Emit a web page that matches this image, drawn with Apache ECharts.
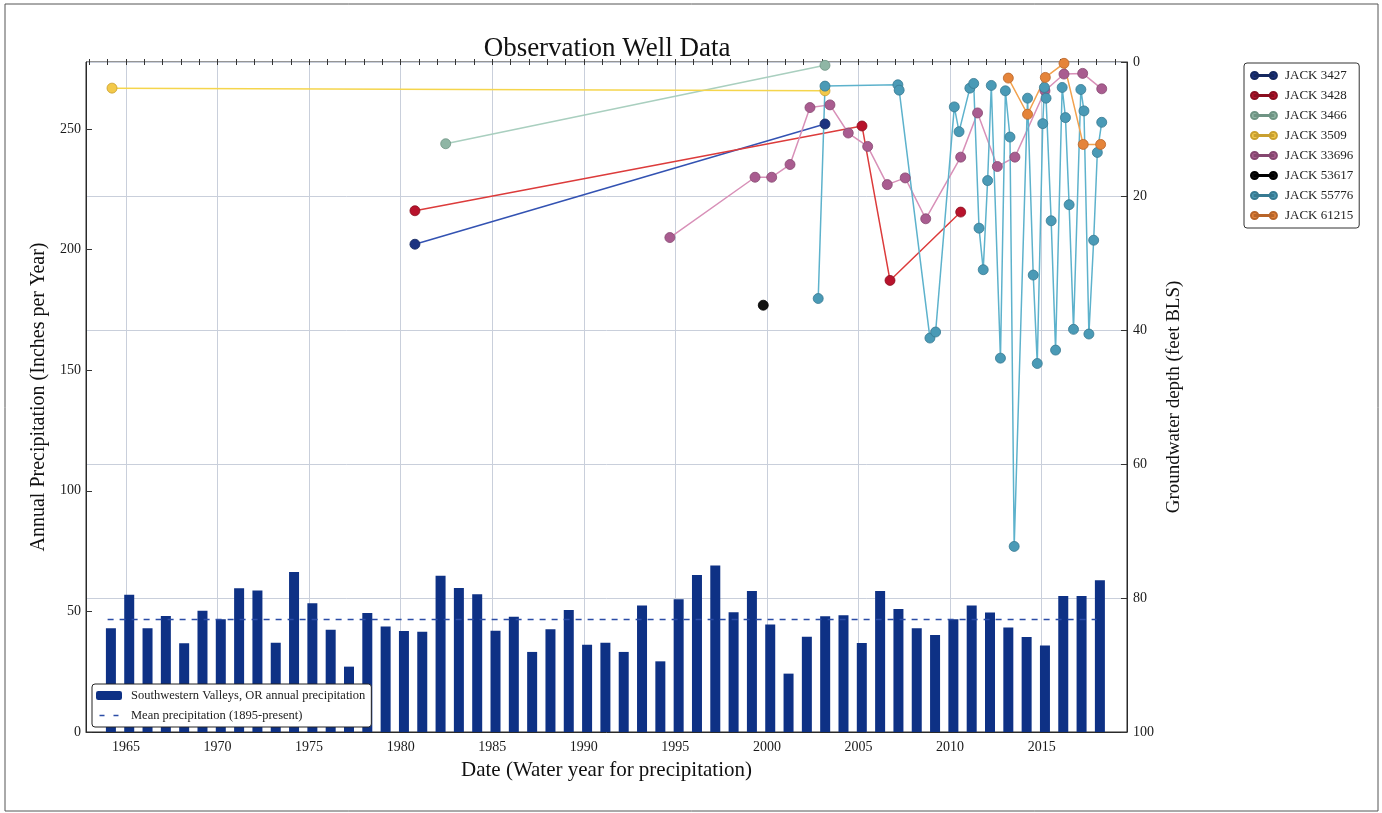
<!DOCTYPE html>
<html><head><meta charset="utf-8">
<script src="https://cdn.jsdelivr.net/npm/echarts@6/dist/echarts.min.js"></script>
<style>html,body{margin:0;padding:0;background:#fff}#c{width:1382px;height:813px}</style>
</head><body><div id="c"></div><script>
// ---------- DATA ----------
const precipDates = [1964.18,1965.18,1966.18,1967.18,1968.18,1969.18,1970.18,1971.18,1972.18,1973.18,
  1974.18,1975.18,1976.18,1977.18,1978.18,1979.18,1980.18,1981.18,1982.18,1983.18,
  1984.18,1985.18,1986.18,1987.18,1988.18,1989.18,1990.18,1991.18,1992.18,1993.18,
  1994.18,1995.18,1996.18,1997.18,1998.18,1999.18,2000.18,2001.18,2002.18,2003.18,
  2004.18,2005.18,2006.18,2007.18,2008.18,2009.18,2010.18,2011.18,2012.18,2013.18,
  2014.18,2015.18,2016.18,2017.18,2018.18];
const precipValues = [43.0,56.9,43.0,48.1,36.8,50.3,46.8,59.6,58.7,37.0,
  66.3,53.4,42.4,27.1,49.3,43.7,41.9,41.6,64.8,59.7,
  57.1,42.0,47.8,33.2,42.6,50.6,36.2,37.0,33.2,52.4,
  29.3,55.0,65.1,69.0,49.6,58.5,44.6,24.2,39.5,48.0,
  48.4,36.9,58.5,51.0,43.0,40.2,46.7,52.5,49.5,43.3,
  39.4,35.9,56.4,56.4,62.9];
const meanPrecip = 46.6;
const meanSpan = [1964, 2018];

const xTickYears = [1965,1970,1975,1980,1985,1990,1995,2000,2005,2010,2015];
const xMinorYears = [1963,1964,1965,1966,1967,1968,1969,1970,1971,1972,1973,1974,1975,1976,1977,1978,1979,
  1980,1981,1982,1983,1984,1985,1986,1987,1988,1989,1990,1991,1992,1993,1994,1995,1996,1997,1998,1999,
  2000,2001,2002,2003,2004,2005,2006,2007,2008,2009,2010,2011,2012,2013,2014,2015,2016,2017,2018,2019];
const leftTicks = [0,50,100,150,200,250];
const rightTicks = [0,20,40,60,80,100];

const jack3427 = [[1980.78,27.2],[2003.17,9.25]];
const jack3428 = [[1980.78,22.2],[2005.19,9.55],[2006.72,32.6],[2010.58,22.4]];
const jack3466 = [[1982.46,12.2],[2003.17,0.5]];
const jack3509 = [[1964.24,3.9],[2003.17,4.3]];
const jack33696 = [[1994.70,26.2],[1999.35,17.2],[2000.26,17.2],[2001.26,15.3],[2002.35,6.8],[2003.44,6.4],
  [2004.44,10.6],[2005.50,12.6],[2006.57,18.3],[2007.55,17.3],[2008.67,23.4],[2010.58,14.2],[2011.50,7.6],
  [2012.58,15.6],[2013.54,14.2],[2015.18,4.3],[2016.22,1.8],[2017.24,1.7],[2018.28,4.0]];
const jack53617 = [[1999.80,36.3]];
const jack55776 = [[2002.80,35.3],[2003.17,3.6],[2007.15,3.4],[2007.22,4.2],[2008.90,41.2],[2009.21,40.3],
  [2010.23,6.7],[2010.49,10.4],[2011.08,3.9],[2011.29,3.2],[2011.58,24.8],[2011.81,31.0],[2012.05,17.7],
  [2012.25,3.5],[2012.75,44.2],[2013.02,4.3],[2013.27,11.2],[2013.50,72.3],[2014.23,5.4],[2014.54,31.8],
  [2014.76,45.0],[2015.06,9.2],[2015.15,3.8],[2015.24,5.4],[2015.52,23.7],[2015.76,43.0],[2016.12,3.8],
  [2016.30,8.3],[2016.50,21.3],[2016.74,39.9],[2017.14,4.1],[2017.31,7.3],[2017.58,40.6],[2017.84,26.6],
  [2018.04,13.5],[2018.28,9.0]];
const jack61215 = [[2013.18,2.4],[2014.23,7.8],[2015.20,2.3],[2016.22,0.2],[2017.27,12.3],[2018.22,12.3]];

const wellNames = ['JACK 3427','JACK 3428','JACK 3466','JACK 3509','JACK 33696','JACK 53617','JACK 55776','JACK 61215'];
const wellData = [jack3427, jack3428, jack3466, jack3509, jack33696, jack53617, jack55776, jack61215];

// ---------- STYLE ----------
const wellStyle = [
  {marker:'#1c3380', edge:'#15285f', line:'#3352b2'},
  {marker:'#b8132c', edge:'#8a0f20', line:'#dc3b3b'},
  {marker:'#8fb6a5', edge:'#6f9484', line:'#a9cfbf'},
  {marker:'#f3c94a', edge:'#c9a030', line:'#f5d54c'},
  {marker:'#a95c90', edge:'#854770', line:'#d890b8'},
  {marker:'#111111', edge:'#000000', line:'#111111'},
  {marker:'#4a9ab6', edge:'#377a92', line:'#5db2cc'},
  {marker:'#e5843a', edge:'#b8652a', line:'#f2a24e'}
];
const FONT = 'Liberation Serif';
const XMIN = 1962.82, XMAX = 2019.66;
const legendIcon = 'path://M0,5a5,5 0 1,1 10,0a5,5 0 1,1 -10,0zM26,5a5,5 0 1,1 10,0a5,5 0 1,1 -10,0zM5,4.2h26v1.6h-26z';
const dashIcon = 'path://M0,0h0.01v0.01h-0.01zM0,9h0.01v0.01h-0.01zM26,0h0.01v0.01h-0.01zM3.5,3.8h5v1.5h-5zM17.5,3.8h5v1.5h-5z';

const chart = echarts.init(document.getElementById('c'), null, {renderer:'canvas'});

const series = [
  {
    name:'Southwestern Valleys, OR annual precipitation', type:'bar', xAxisIndex:0, yAxisIndex:0,
    barWidth:10, itemStyle:{color:'#0e3185'}, z:2,
    data: precipDates.map((d,i)=>[d, precipValues[i]])
  },
  {
    name:'Mean precipitation (1895-present)', type:'line', xAxisIndex:0, yAxisIndex:0,
    symbol:'none', z:3, lineStyle:{color:'#2b4ca6', width:1.5, type:[6,6]},
    itemStyle:{color:'#2b4ca6'},
    data: meanSpan.map(x=>[x, meanPrecip])
  }
];
wellNames.forEach((n,i)=>{
  const s = wellStyle[i];
  series.push({
    name:n, type:'line', xAxisIndex:0, yAxisIndex:1, z:5,
    symbol:'circle', symbolSize:10, showAllSymbol:true,
    itemStyle:{color:s.marker, borderColor:s.edge, borderWidth:0.8},
    lineStyle:{color:s.line, width:1.5},
    emphasis:{disabled:true},
    data: wellData[i]
  });
});

const axisText = {fontFamily:FONT, fontSize:14, color:'#1a1a1a'};
const option = {
  animation:false,
  backgroundColor:'#ffffff',
  grid:{left:86, right:255, top:62, bottom:81, show:true, borderColor:'#2a2a2a', borderWidth:1, backgroundColor:'transparent'},
  graphic:[
    {type:'rect', shape:{x:5, y:4, width:1373, height:807}, style:{fill:'none', stroke:'#555', lineWidth:1}, silent:true},
    {type:'text', x:607, y:49, style:{text:'Observation Well Data', textAlign:'center', textVerticalAlign:'middle',
      font:'27px "Liberation Serif"', fill:'#111'}}
  ],
  legend:[
    {
      data: wellNames, orient:'vertical', left:1244, top:63,
      padding:[6,6,6,6], itemGap:7, itemWidth:26, itemHeight:7.2, icon:legendIcon,
      backgroundColor:'#fff', borderColor:'#333', borderWidth:1, borderRadius:3,
      textStyle:{fontFamily:FONT, fontSize:13, color:'#222', padding:[0,0,0,3]},
      selectedMode:false
    },
    {
      data:['Southwestern Valleys, OR annual precipitation', {name:'Mean precipitation (1895-present)', icon:dashIcon}],
      orient:'vertical', left:92, top:684, padding:[5,6,5,4], itemGap:7, itemWidth:26, itemHeight:9,
      backgroundColor:'#fff', borderColor:'#222', borderWidth:1, borderRadius:3,
      textStyle:{fontFamily:FONT, fontSize:12.5, color:'#222', padding:[0,0,0,4]},
      selectedMode:false
    }
  ],
  xAxis:[
    {
      type:'value', min:XMIN, max:XMAX, position:'bottom',
      name:'Date (Water year for precipitation)', nameLocation:'middle', nameGap:28,
      nameTextStyle:{fontFamily:FONT, fontSize:21, color:'#111'},
      axisLine:{show:true, lineStyle:{color:'#2a2a2a'}},
      axisTick:{show:true, inside:true, length:6, customValues:xTickYears, lineStyle:{color:'#333'}},
      axisLabel:Object.assign({customValues:xTickYears, margin:8, formatter:(v)=>String(Math.round(v))}, axisText),
      splitLine:{show:true, lineStyle:{color:'#c9cfdb', width:1}}
    },
    {
      type:'value', min:XMIN, max:XMAX, position:'bottom', gridIndex:0,
      axisLine:{show:false}, axisLabel:{show:false}, splitLine:{show:false},
      axisTick:{show:true, inside:true, length:3, customValues:xMinorYears, lineStyle:{color:'#333'}}
    },
    {
      type:'value', min:XMIN, max:XMAX, position:'top', gridIndex:0,
      axisLine:{show:false}, axisLabel:{show:false}, splitLine:{show:false},
      axisTick:{show:true, inside:true, length:3, customValues:xMinorYears, lineStyle:{color:'#333'}}
    }
  ],
  yAxis:[
    {
      type:'value', min:0, max:277.8, position:'left',
      name:'Annual Precipitation (Inches per Year)', nameLocation:'middle', nameGap:34,
      nameTextStyle:{fontFamily:FONT, fontSize:20, color:'#111'},
      axisLine:{show:true, lineStyle:{color:'#2a2a2a'}},
      axisTick:{show:true, inside:true, length:6, customValues:leftTicks, lineStyle:{color:'#333'}},
      axisLabel:Object.assign({customValues:leftTicks, margin:5}, axisText),
      splitLine:{show:false}
    },
    {
      type:'value', min:0, max:100, interval:20, inverse:true, position:'right',
      name:'Groundwater depth (feet BLS)', nameLocation:'middle', nameGap:26, nameRotate:90,
      nameTextStyle:{fontFamily:FONT, fontSize:19, color:'#111'},
      axisLine:{show:true, lineStyle:{color:'#2a2a2a'}},
      axisTick:{show:true, inside:true, length:6, lineStyle:{color:'#333'}},
      axisLabel:Object.assign({margin:6}, axisText),
      splitLine:{show:true, lineStyle:{color:'#c9cfdb', width:1}}
    }
  ],
  series: series
};
chart.setOption(option);
</script></body></html>
